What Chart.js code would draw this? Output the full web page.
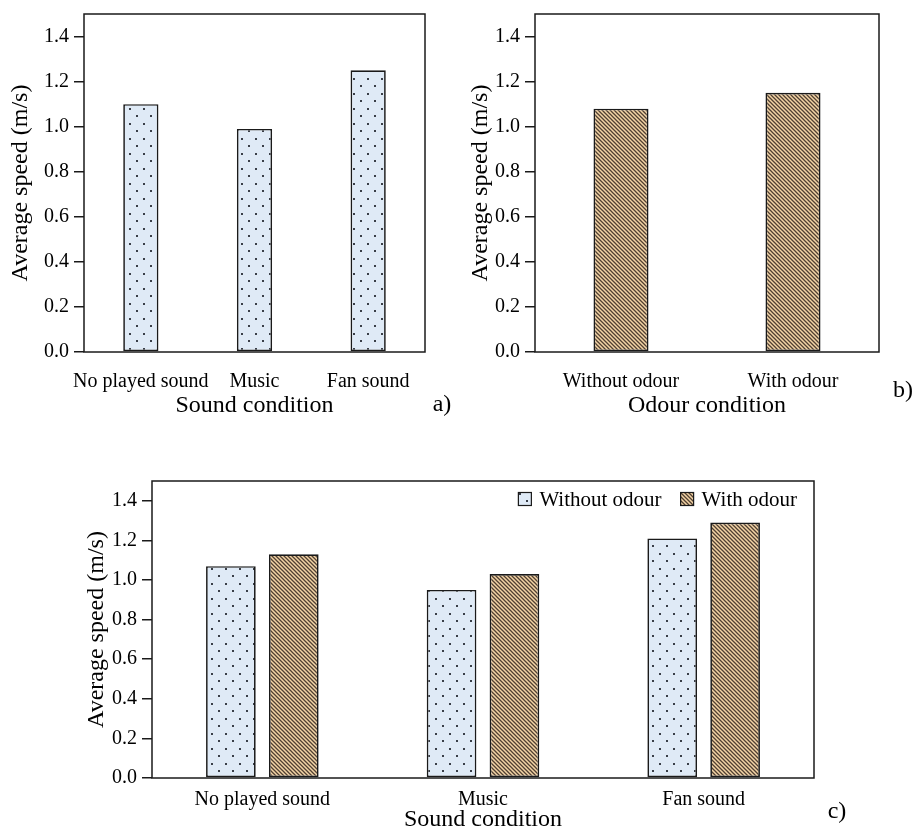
<!DOCTYPE html>
<html>
<head>
<meta charset="utf-8">
<script src="https://cdn.jsdelivr.net/npm/chart.js@4.4.1/dist/chart.umd.min.js"></script>
<style>
  html, body { margin: 0; padding: 0; background: #fff; }
  body { position: relative; width: 919px; height: 830px; overflow: hidden; }
  .panel { position: absolute; }
</style>
</head>
<body>
<div class="panel" style="left:0;top:0;width:460px;height:420px"><canvas id="chartA"></canvas></div>
<div class="panel" style="left:460px;top:0;width:459px;height:420px"><canvas id="chartB"></canvas></div>
<div class="panel" style="left:40px;top:460px;width:840px;height:374px"><canvas id="chartC"></canvas></div>
<script>
  // data
  const soundLabels = ["No played sound", "Music", "Fan sound"];
  const soundSpeed = [1.10, 0.99, 1.25];

  const odourLabels = ["Without odour", "With odour"];
  const odourSpeed = [1.08, 1.15];

  const comboWithout = [1.07, 0.95, 1.21];
  const comboWith = [1.13, 1.03, 1.29];

  const yTicks = [0, 0.2, 0.4, 0.6, 0.8, 1.0, 1.2, 1.4];

  const SERIF = "'Liberation Serif', 'DejaVu Serif', serif";
  const INK = "#1a1a1a";

  function dotPattern() {
    const c = document.createElement("canvas");
    c.width = 14; c.height = 15;
    const g = c.getContext("2d");
    g.fillStyle = "#dfeaf6";
    g.fillRect(0, 0, 14, 15);
    g.fillStyle = "#3a3f48";
    g.fillRect(3, 3, 2, 2);
    g.fillRect(10, 10, 2, 2);
    return g.createPattern(c, "repeat");
  }

  function hatchPattern() {
    const c = document.createElement("canvas");
    c.width = 4; c.height = 4;
    const g = c.getContext("2d");
    g.fillStyle = "#f3d4a6";
    g.fillRect(0, 0, 4, 4);
    g.strokeStyle = "#514032";
    g.lineWidth = 1.3;
    g.beginPath();
    g.moveTo(-1, -1); g.lineTo(5, 5);
    g.moveTo(-1, 3); g.lineTo(1, 5);
    g.moveTo(3, -1); g.lineTo(5, 1);
    g.stroke();
    return g.createPattern(c, "repeat");
  }

  // box round the plot, the panel letter and (for c) the legend inside the plot
  const framePlugin = {
    id: "frame",
    afterDraw(chart, args, opts) {
      const { ctx, chartArea: a } = chart;
      ctx.save();
      ctx.strokeStyle = INK;
      ctx.lineWidth = 1.5;
      ctx.strokeRect(a.left, a.top, a.right - a.left, a.bottom - a.top);
      if (opts.letter) {
        ctx.fillStyle = "#000";
        ctx.font = "24px " + SERIF;
        ctx.textAlign = "center";
        ctx.textBaseline = "middle";
        ctx.fillText(opts.letter, a.right + opts.dx, a.bottom + opts.dy);
      }
      if (opts.legend) {
        ctx.font = "21px " + SERIF;
        ctx.textBaseline = "middle";
        ctx.textAlign = "left";
        const y = a.top + 18;
        let x = a.right - 17;
        const sets = chart.data.datasets.slice().reverse();
        sets.forEach(ds => {
          const w = ctx.measureText(ds.label).width;
          x -= w;
          ctx.fillStyle = "#000";
          ctx.fillText(ds.label, x, y + 1);
          x -= 8 + 13;
          ctx.fillStyle = ds.backgroundColor;
          ctx.fillRect(x, y - 6.5, 13, 13);
          ctx.strokeStyle = INK;
          ctx.lineWidth = 1.2;
          ctx.strokeRect(x, y - 6.5, 13, 13);
          x -= 19;
        });
      }
      ctx.restore();
    }
  };

  function makeOptions(cfg) {
    return {
      responsive: false,
      animation: false,
      layout: { padding: cfg.padding },
      plugins: {
        legend: { display: false },
        tooltip: { enabled: false },
        frame: { letter: cfg.letter, dx: cfg.dx, dy: cfg.dy, legend: !!cfg.legend }
      },
      scales: {
        x: {
          grid: { display: false },
          border: { display: false },
          ticks: { color: "#000", font: { family: SERIF, size: 20 }, padding: cfg.xPad, maxRotation: 0, autoSkip: false },
          title: { display: true, text: cfg.xTitle, color: "#000", font: { family: SERIF, size: 24 }, padding: 0 },
          afterFit: s => { s.height = cfg.xH; s.paddingLeft = 0; s.paddingRight = 0; }
        },
        y: {
          min: 0,
          max: 1.5,
          afterBuildTicks: s => { s.ticks = yTicks.map(v => ({ value: v })); },
          grid: { drawOnChartArea: false, drawTicks: true, tickLength: 10, color: INK, lineWidth: 1.5 },
          border: { display: false },
          ticks: { color: "#000", font: { family: SERIF, size: 20 }, padding: 5, callback: v => Number(v).toFixed(1) },
          title: { display: true, text: "Average speed (m/s)", color: "#000", font: { family: SERIF, size: 24 }, padding: 0 },
          afterFit: s => { s.width = cfg.yW; s.paddingTop = 0; s.paddingBottom = 0; }
        }
      }
    };
  }

  function sizeCanvas(id, w, h) {
    const el = document.getElementById(id);
    el.width = w; el.height = h;
    el.style.width = w + "px"; el.style.height = h + "px";
    return el;
  }

  const dots = dotPattern();
  const hatch = hatchPattern();

  // a) sound condition
  new Chart(sizeCanvas("chartA", 460, 420), {
    type: "bar",
    data: {
      labels: soundLabels,
      datasets: [{
        data: soundSpeed,
        backgroundColor: dots,
        borderColor: INK,
        borderWidth: 1.7,
        borderSkipped: false,
        categoryPercentage: 1,
        barPercentage: 0.31
      }]
    },
    options: makeOptions({ padding: { left: 6, top: 14, right: 35, bottom: 0 }, yW: 78, xH: 68, xPad: 10, xTitle: "Sound condition", letter: "a)", dx: 17, dy: 53 }),
    plugins: [framePlugin]
  });

  // b) odour condition
  new Chart(sizeCanvas("chartB", 459, 420), {
    type: "bar",
    data: {
      labels: odourLabels,
      datasets: [{
        data: odourSpeed,
        backgroundColor: hatch,
        borderColor: INK,
        borderWidth: 1.7,
        borderSkipped: false,
        categoryPercentage: 1,
        barPercentage: 0.32
      }]
    },
    options: makeOptions({ padding: { left: 6, top: 14, right: 40, bottom: 0 }, yW: 69, xH: 68, xPad: 10, xTitle: "Odour condition", letter: "b)", dx: 24, dy: 39 }),
    plugins: [framePlugin]
  });

  // c) sound x odour
  new Chart(sizeCanvas("chartC", 840, 374), {
    type: "bar",
    data: {
      labels: soundLabels,
      datasets: [
        {
          label: "Without odour",
          data: comboWithout,
          backgroundColor: dots,
          borderColor: INK,
          borderWidth: 1.7,
          borderSkipped: false,
          categoryPercentage: 0.57,
          barPercentage: 0.79
        },
        {
          label: "With odour",
          data: comboWith,
          backgroundColor: hatch,
          borderColor: INK,
          borderWidth: 1.7,
          borderSkipped: false,
          categoryPercentage: 0.57,
          barPercentage: 0.79
        }
      ]
    },
    options: makeOptions({
      padding: { left: 42, top: 21, right: 66, bottom: 0 }, yW: 70, xH: 56, xPad: 2,
      xTitle: "Sound condition", letter: "c)", dx: 23, dy: 34, legend: true
    }),
    plugins: [framePlugin]
  });
</script>
</body>
</html>
